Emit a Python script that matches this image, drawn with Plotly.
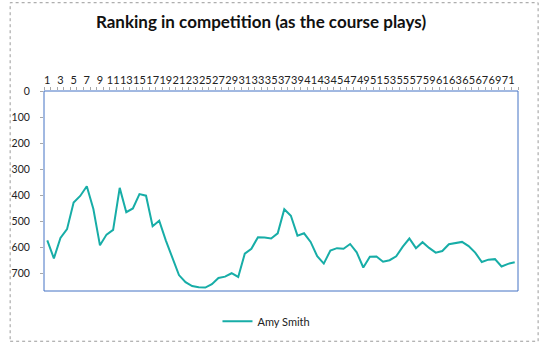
import plotly.graph_objects as go

holes = list(range(1, 73))
ranking = [572, 641, 563, 529, 427, 402, 365, 452, 591, 550,
           532, 371, 464, 450, 395, 401, 518, 497, 572, 638,
           705, 732, 747, 752, 753, 740, 716, 711, 698, 712,
           623, 604, 560, 561, 565, 545, 453, 478, 554, 545,
           578, 633, 661, 611, 602, 604, 586, 618, 676, 635,
           634, 654, 648, 633, 596, 565, 602, 579, 601, 619,
           613, 587, 583, 578, 594, 619, 655, 646, 644, 672,
           662, 656]
series_name = "Amy Smith"
x_ticks = list(range(1, 72, 2))
y_ticks = [0, 100, 200, 300, 400, 500, 600, 700]

W, H = 539, 348
L, R, T, B = 35, 21, 91, 52
pw, ph = W - L - R, H - T - B

fig = go.Figure()
fig.add_trace(go.Scatter(x=holes, y=ranking, mode="lines", name=series_name,
                         line=dict(color="#17ADA7", width=2)))

fnt = "Lato, Carlito, Calibri, sans-serif"
fig.update_layout(
    width=W, height=H,
    margin=dict(l=L, r=R, t=T, b=B, pad=0),
    paper_bgcolor="white", plot_bgcolor="white",
    font=dict(family=fnt, size=11, color="#222"),
    title=dict(text="<b>Ranking in competition (as the course plays)</b>",
               x=261 / W, xref="container", xanchor="center",
               y=1 - 22 / H, yref="container", yanchor="middle",
               font=dict(family=fnt, size=17, color="#111")),
    showlegend=True,
    legend=dict(orientation="h", x=0.366, xanchor="left", y=-31 / ph, yanchor="middle",
                itemwidth=30, font=dict(family=fnt, size=11, color="#222"),
                bgcolor="rgba(0,0,0,0)"),
    xaxis=dict(range=[0.5, 72.5], side="top", tickmode="array", tickvals=x_ticks,
               ticktext=[str(v) for v in x_ticks], tickangle=0, ticks="",
               showgrid=False, zeroline=False, showline=False,
               tickfont=dict(size=11), ticklabelstandoff=4,
               minor=dict(tick0=0.5, dtick=1, ticks="outside", ticklen=3,
                          tickcolor="#a8a8a8", showgrid=False)),
    yaxis=dict(range=[766, 0], tickmode="array", tickvals=y_ticks,
               ticks="outside", ticklen=3, tickcolor="#a8a8a8",
               showgrid=False, zeroline=False, showline=False,
               tickfont=dict(size=10.5), ticklabelstandoff=8),
)
# plot-area border (blue)
fig.add_shape(type="rect", xref="paper", yref="paper", x0=0, x1=1, y0=0, y1=1,
              line=dict(color="#4472C4", width=1), layer="above")
# outer chart border (gray dashed)
fig.add_shape(type="rect", xref="paper", yref="paper",
              x0=-(L - 0.5) / pw, x1=1 + (R - 0.5) / pw,
              y0=-(B - 0.5) / ph, y1=1 + (T - 0.5) / ph,
              line=dict(color="#9a9a9a", width=1, dash="dot"), layer="above")

fig.write_html("out.html")
